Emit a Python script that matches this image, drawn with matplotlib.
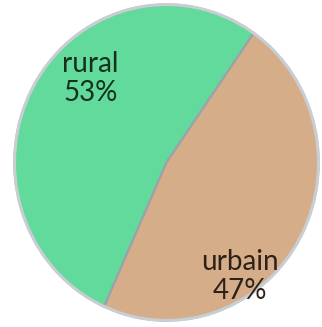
import matplotlib.pyplot as plt

# part de la population
labels = ['rural', 'urbain']
values = [53, 47]
colors = ['#62DA9B', '#D5AD89']
text_colors = ['#15301f', '#2e2119']

fig = plt.figure(figsize=(3.22, 3.27), dpi=100)
ax = fig.add_axes([13 / 322, 5 / 327, 307 / 322, 319 / 327])

wedges, _ = ax.pie(values, colors=colors, startangle=55, counterclock=True,
                   wedgeprops=dict(edgecolor='#9aa3ab', linewidth=1.6))
ax.set_aspect('auto')

# contour clair autour du disque
ring = plt.Circle((0, 0), 1.0, fill=False, edgecolor='#c9ced3', linewidth=2.2)
ax.add_patch(ring)

# etiquettes : nom + pourcentage
pos = [(-0.50, 0.53), (0.48, -0.72)]
for (x, y), lab, v, c in zip(pos, labels, values, text_colors):
    ax.text(x, y, f'{lab}\n{v}%', ha='center', va='center', fontsize=20,
            color=c, linespacing=1.15, family='Lato')

ax.set_xlim(-1.01, 1.01)
ax.set_ylim(-1.01, 1.01)
ax.axis('off')

fig.savefig('out.png', dpi=100)
